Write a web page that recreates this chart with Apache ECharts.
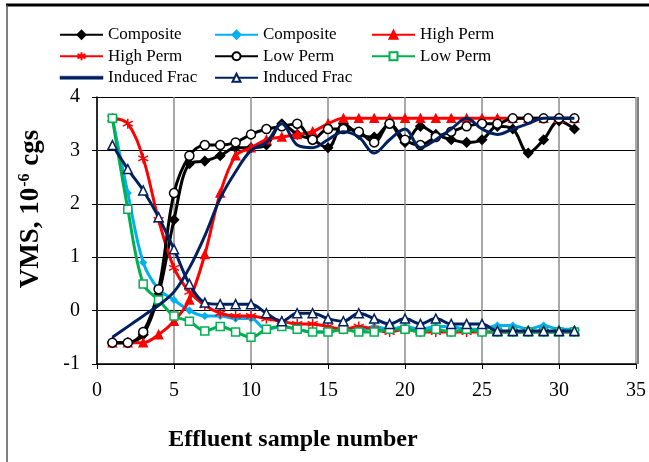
<!DOCTYPE html>
<html>
<head>
<meta charset="utf-8">
<script src="https://cdn.jsdelivr.net/npm/echarts@6/dist/echarts.min.js"></script>
<style>
html,body{margin:0;padding:0;background:#fff;}
#c{width:649px;height:462px;}
</style>
</head>
<body>
<div id="c"></div>
<script>
const samples = [1,2,3,4,5,6,7,8,9,10,11,12,13,14,15,16,17,18,19,20,21,22,23,24,25,26,27,28,29,30,31];

const compositeRise = [-0.6,-0.6,-0.45,0.3,1.7,2.75,2.8,2.9,3.05,3.05,3.1,3.5,3.3,3.2,3.05,3.5,3.3,3.25,3.5,3.15,3.45,3.3,3.2,3.15,3.2,3.45,3.4,2.95,3.2,3.55,3.4];
const compositeFall = [3.6,2.2,0.9,0.4,0.2,0.0,-0.1,-0.1,-0.15,-0.15,-0.35,-0.3,-0.35,-0.4,-0.4,-0.35,-0.4,-0.3,-0.35,-0.3,-0.35,-0.3,-0.3,-0.35,-0.35,-0.28,-0.28,-0.35,-0.28,-0.35,-0.35];
const highPermRise = [-0.6,-0.6,-0.6,-0.45,-0.2,0.2,1.05,2.2,2.9,3.05,3.2,3.25,3.3,3.35,3.5,3.6,3.6,3.6,3.6,3.6,3.6,3.6,3.6,3.6,3.6,3.6,3.6,3.6,3.6,3.6,3.6];
const highPermFall = [3.6,3.5,2.85,1.7,0.8,0.35,0.1,-0.05,-0.1,-0.1,-0.15,-0.2,-0.25,-0.25,-0.3,-0.35,-0.3,-0.35,-0.4,-0.35,-0.4,-0.4,-0.4,-0.4,-0.4,-0.4,-0.4,-0.4,-0.4,-0.4,-0.4];
const lowPermRise = [-0.6,-0.6,-0.4,0.4,2.2,2.9,3.1,3.1,3.15,3.3,3.4,3.45,3.5,3.2,3.4,3.4,3.35,3.15,3.5,3.2,3.1,3.25,3.35,3.45,3.5,3.5,3.6,3.6,3.6,3.6,3.6];
const lowPermFall = [3.6,1.9,0.5,0.2,-0.1,-0.2,-0.38,-0.3,-0.4,-0.5,-0.35,-0.3,-0.35,-0.4,-0.4,-0.35,-0.4,-0.4,-0.35,-0.35,-0.4,-0.35,-0.4,-0.35,-0.4,-0.4,-0.4,-0.4,-0.4,-0.4,-0.4];
const inducedRise = [-0.5,-0.3,-0.1,0.1,0.35,0.8,1.4,2.1,2.6,3.0,3.15,3.5,3.1,3.05,3.2,3.35,3.25,2.95,3.2,3.4,3.05,3.2,3.4,3.6,3.4,3.3,3.4,3.5,3.6,3.6,3.6];
const inducedFall = [3.1,2.65,2.25,1.75,1.15,0.5,0.15,0.12,0.12,0.12,-0.05,-0.2,-0.05,-0.05,-0.15,-0.2,-0.05,-0.15,-0.25,-0.15,-0.25,-0.15,-0.25,-0.25,-0.25,-0.38,-0.38,-0.38,-0.38,-0.38,-0.38];

const seriesKeys = ['s1','s2','s3','s4','s5','s6','s7','s8'];
const seriesLabels = ['Composite','Composite','High Perm','High Perm','Low Perm','Low Perm','Induced Frac','Induced Frac'];

const xTicks = [0,5,10,15,20,25,30,35];
const yTicks = [-1,0,1,2,3,4];
const xTitle = 'Effluent sample number';

function pts(arr){ return samples.map((s,i)=>[s,arr[i]]); }
const labelMap = {};
seriesKeys.forEach((k,i)=>labelMap[k]=seriesLabels[i]);

const star = 'path://M0,-10L0,10M-8.66,-5L8.66,5M-8.66,5L8.66,-5';
const FONT = '"Liberation Serif","Times New Roman",serif';

function mk(key, data, color, symbol, size, fill, z){
  return {
    name: key, type: 'line', data: pts(data), smooth: 0.35,
    symbol: symbol, symbolSize: size, showSymbol: symbol !== 'none',
    lineStyle: {color: color, width: 3},
    itemStyle: {color: fill, borderColor: color, borderWidth: 1.5},
    z: z, animation: false
  };
}

const series = [
  mk('s1', compositeRise, '#000000', 'diamond', 9, '#000000', 2),
  mk('s2', compositeFall, '#00B0F0', 'diamond', 6, '#00B0F0', 3),
  mk('s3', highPermRise, '#FF0000', 'triangle', 8, '#FF0000', 4),
  mk('s4', highPermFall, '#FF0000', star, 10, '#FF0000', 5),
  mk('s5', lowPermRise, '#000000', 'circle', 9, '#ffffff', 6),
  mk('s6', lowPermFall, '#00B050', 'rect', 8, '#ffffff', 7),
  mk('s7', inducedRise, '#002060', 'none', 1, '#002060', 8),
  mk('s8', inducedFall, '#002060', 'triangle', 9, '#ffffff', 9)
];

const plainLineIcon = 'path://M0,0L42,0L42,3L0,3Z';

function legend(keys, left){
  return {
    data: keys.map(k => k === 's7' ? {name: k, icon: plainLineIcon, itemStyle: {borderWidth: 0.5}} : k),
    orient: 'vertical', left: left, top: 20,
    itemWidth: 43, itemHeight: 10, itemGap: 2, symbolKeepAspect: true,
    textStyle: {fontFamily: FONT, fontSize: 17, color: '#000', lineHeight: 19.5},
    formatter: n => labelMap[n], selectedMode: false
  };
}

const chart = echarts.init(document.getElementById('c'), null, {renderer: 'canvas'});
chart.setOption({
  animation: false,
  backgroundColor: '#fff',
  grid: {left: 97, top: 97, right: 11, bottom: 98, containLabel: false},
  legend: [
    legend(['s1','s4','s7'], 54),
    legend(['s2','s5','s8'], 209),
    legend(['s3','s6'], 366)
  ],
  xAxis: {
    type: 'value', min: xTicks[0], max: xTicks[xTicks.length-1], interval: 5,
    axisLine: {onZero: false, lineStyle: {color: '#000', width: 1.5}},
    axisTick: {show: true, length: 5, lineStyle: {color: '#000'}},
    axisLabel: {fontFamily: FONT, fontSize: 20, color: '#000', margin: 17},
    splitLine: {show: true, lineStyle: {color: '#8c8c8c', width: 1.5}}
  },
  yAxis: {
    type: 'value', min: yTicks[0], max: yTicks[yTicks.length-1], interval: 1,
    axisLine: {show: true, onZero: false, lineStyle: {color: '#000', width: 1.5}},
    axisTick: {show: true, length: 5, lineStyle: {color: '#000'}},
    axisLabel: {fontFamily: FONT, fontSize: 20, color: '#000', margin: 17},
    splitLine: {show: true, lineStyle: {color: '#000', width: 1}}
  },
  graphic: [
    {type: 'line', shape: {x1: 6, y1: 5, x2: 649, y2: 5}, style: {stroke: '#000', lineWidth: 3}, silent: true},
    {type: 'line', shape: {x1: 7, y1: 5, x2: 7, y2: 462}, style: {stroke: '#555', lineWidth: 1.5}, silent: true},
    {type: 'line', shape: {x1: 638, y1: 97, x2: 638, y2: 364}, style: {stroke: '#000', lineWidth: 1}, silent: true, z: 10},
    {type: 'text', x: 293, y: 440, style: {text: xTitle, font: 'bold 24px ' + FONT, fill: '#000', align: 'center', verticalAlign: 'middle'}},
    {type: 'text', x: 31, y: 209, rotation: Math.PI/2,
     style: {text: '{a|VMS, 10}{b|-6}{a| cgs}', align: 'center', verticalAlign: 'middle', fill: '#000',
       rich: {a: {font: 'bold 27px ' + FONT, fill: '#000', verticalAlign: 'bottom'}, b: {font: 'bold 16px ' + FONT, fill: '#000', verticalAlign: 'top', padding: [0,1,12,1]}}}}
  ],
  series: series
});
</script>
</body>
</html>
